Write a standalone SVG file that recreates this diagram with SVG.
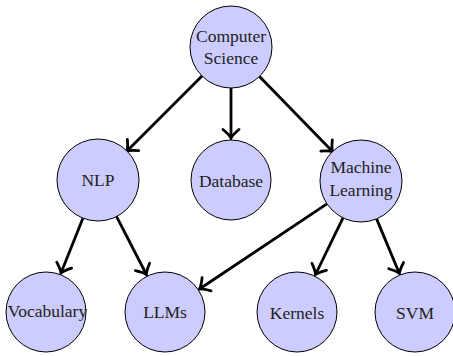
<svg xmlns="http://www.w3.org/2000/svg" width="453" height="356" viewBox="0 0 453 356">
<defs>
<style>
.n{fill:#ccccff;stroke:#000;stroke-width:1}
.e{stroke:#000;stroke-width:2.8;fill:none;marker-end:url(#a)}
</style>
<marker id="a" markerUnits="userSpaceOnUse" markerWidth="24" markerHeight="24" viewBox="-12 -12 24 24" refX="0" refY="0" orient="auto" overflow="visible">
<path d="M-8.5,-8 Q-3,-1.5 0,0 Q-3,1.5 -8.5,8" fill="none" stroke="#000" stroke-width="2.8" stroke-linecap="round"/>
</marker>
</defs>
<rect width="453" height="356" fill="#fff"/>
<g id="edges">
<line class="e" x1="202" y1="76" x2="127" y2="151"/>
<line class="e" x1="231" y1="88" x2="231" y2="138"/>
<line class="e" x1="259.5" y1="76.4" x2="332.5" y2="151.6"/>
<line class="e" x1="83" y1="218" x2="61" y2="273"/>
<line class="e" x1="116.6" y1="216.6" x2="146.4" y2="274.5"/>
<line class="e" x1="326.9" y1="203.8" x2="199.5" y2="289"/>
<line class="e" x1="343" y1="217.8" x2="315.5" y2="274.5"/>
<line class="e" x1="376.6" y1="218.9" x2="399.4" y2="273.5"/>
</g>
<g font-family="'Liberation Serif', 'DejaVu Serif', 'Times New Roman', serif" font-size="17.5" fill="#222" text-anchor="middle">
<g id="cs"><circle class="n" cx="231" cy="47" r="41"/><text x="231" y="42">Computer</text><text x="231" y="64">Science</text></g>
<g id="nlp"><circle class="n" cx="98" cy="180" r="41"/><text x="98" y="186">NLP</text></g>
<g id="db"><circle class="n" cx="231" cy="180" r="40"/><text x="231" y="187">Database</text></g>
<g id="ml"><circle class="n" cx="361" cy="181" r="41"/><text x="361" y="173">Machine</text><text x="361" y="196">Learning</text></g>
<g id="voc"><circle class="n" cx="46" cy="312" r="40"/><text x="47.5" y="317">Vocabulary</text></g>
<g id="llms"><circle class="n" cx="165" cy="312" r="40"/><text x="165" y="318">LLMs</text></g>
<g id="kern"><circle class="n" cx="297" cy="312" r="40"/><text x="297" y="319">Kernels</text></g>
<g id="svm"><circle class="n" cx="415" cy="312" r="40"/><text x="415" y="319">SVM</text></g>
</g>
</svg>
